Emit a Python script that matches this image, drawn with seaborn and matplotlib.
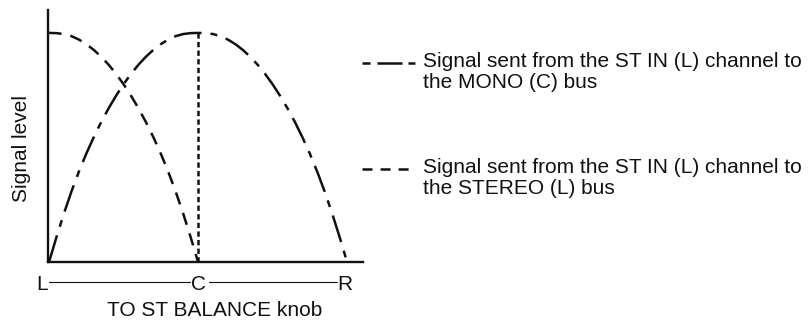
import matplotlib
matplotlib.use("Agg")
import matplotlib.pyplot as plt
from matplotlib.lines import Line2D
import numpy as np
import pandas as pd
import seaborn as sns

# Knob position: L = -1, C = 0, R = 1
balance = [-1.0, -0.95, -0.9, -0.85, -0.8, -0.75, -0.7, -0.65, -0.6, -0.55,
           -0.5, -0.45, -0.4, -0.35, -0.3, -0.25, -0.2, -0.15, -0.1, -0.05,
           0.0, 0.05, 0.1, 0.15, 0.2, 0.25, 0.3, 0.35, 0.4, 0.45,
           0.5, 0.55, 0.6, 0.65, 0.7, 0.75, 0.8, 0.85, 0.9, 0.95, 1.0]
# Level sent to the MONO (C) bus
mono_level = [0.0, 0.109, 0.212, 0.307, 0.394, 0.473, 0.545, 0.611, 0.671, 0.726,
              0.776, 0.821, 0.861, 0.896, 0.926, 0.951, 0.971, 0.986, 0.995, 0.999,
              1.0, 0.999, 0.995, 0.986, 0.971, 0.951, 0.926, 0.896, 0.861, 0.821,
              0.776, 0.726, 0.671, 0.611, 0.545, 0.473, 0.394, 0.307, 0.212, 0.109, 0.0]
# Level sent to the STEREO (L) bus (only from L to C)
stereo_pos = [-1.0, -0.95, -0.9, -0.85, -0.8, -0.75, -0.7, -0.65, -0.6, -0.55,
              -0.5, -0.45, -0.4, -0.35, -0.3, -0.25, -0.2, -0.15, -0.1, -0.05, 0.0]
stereo_level = [1.0, 0.999, 0.995, 0.986, 0.971, 0.951, 0.926, 0.896, 0.861, 0.821,
                0.776, 0.726, 0.671, 0.611, 0.545, 0.473, 0.394, 0.307, 0.212, 0.109, 0.0]

tick_names = ["L", "C", "R"]
x_title = "TO ST BALANCE knob"
y_title = "Signal level"
legend_mono = ["Signal sent from the ST IN (L) channel to", "the MONO (C) bus"]
legend_stereo = ["Signal sent from the ST IN (L) channel to", "the STEREO (L) bus"]

sns.set_theme(style="white")
plt.rcParams["font.family"] = ["Liberation Sans", "DejaVu Sans"]
plt.rcParams["lines.scale_dashes"] = False

W, H = 811, 320
INK = "#111111"
fig = plt.figure(figsize=(W / 100, H / 100), dpi=100)
fig.patch.set_facecolor("white")


def fx(px):
    return px / W


def fy(py):
    return 1 - py / H


ax = fig.add_axes([fx(48), fy(262), fx(363) - fx(48), fy(10) - fy(262)])
ax.set_facecolor("white")

mono_df = pd.DataFrame({"pos": balance, "level": mono_level})
stereo_df = pd.DataFrame({"pos": stereo_pos, "level": stereo_level})

mono_style = (0, (20.0, 6.5, 5.0, 6.5))
stereo_style = (0, (9.0, 6.5))

sns.lineplot(data=mono_df, x="pos", y="level", ax=ax, color=INK,
             lw=1.8, linestyle=mono_style, sort=False)
sns.lineplot(data=stereo_df, x="pos", y="level", ax=ax, color=INK,
             lw=1.8, linestyle=stereo_style, sort=False)

# Dotted marker at the centre position, up to the MONO peak
c_idx = balance.index(0.0)
ax.vlines(balance[c_idx], 0, mono_level[c_idx], color=INK, lw=1.8,
          linestyle=(0, (3.8, 2.4)))

ax.set_xlim(-1.007, 1.107)
ax.set_ylim(0, 1.1)
ax.set_xticks([])
ax.set_yticks([])
ax.set_xlabel("")
ax.set_ylabel("")
sns.despine(ax=ax)
for side in ("left", "bottom"):
    ax.spines[side].set_color(INK)
    ax.spines[side].set_linewidth(1.7)

fs = 15
# L ---- C ---- R scale under the axis
for name, px in zip(tick_names, [42.5, 199, 344.5]):
    fig.text(fx(px), fy(290), name, ha="center", va="baseline", fontsize=fs,
             color=INK)
for x0, x1 in [(49, 190), (209, 337)]:
    fig.add_artist(Line2D([fx(x0), fx(x1)], [fy(282), fy(282)],
                          transform=fig.transFigure, color=INK, lw=0.8))

fig.text(fx(215), fy(316), x_title, ha="center", va="baseline", fontsize=fs,
         color=INK)
fig.text(fx(22), fy(148), y_title, ha="center", va="center", rotation=90,
         fontsize=fs, color=INK)

# Legend keys and descriptions
fig.add_artist(Line2D([fx(362), fx(415)], [fy(63), fy(63)],
                      transform=fig.transFigure, color=INK, lw=1.8,
                      linestyle=(0, (5.8, 5.0, 18.0, 4.3, 5.0, 40))))
fig.add_artist(Line2D([fx(362), fx(413)], [fy(169), fy(169)],
                      transform=fig.transFigure, color=INK, lw=1.8,
                      linestyle=(0, (7.2, 5.8))))
for lines, base in [(legend_mono, 67), (legend_stereo, 173)]:
    for i, t in enumerate(lines):
        fig.text(fx(423), fy(base + 21 * i), t, ha="left", va="baseline",
                 fontsize=fs, color=INK)

fig.savefig("out.png", dpi=100, facecolor="white")
